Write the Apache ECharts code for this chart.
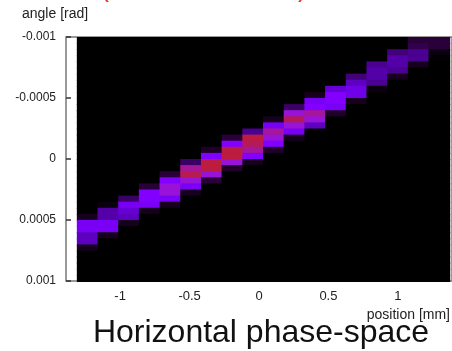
<!DOCTYPE html>
<html>
<head>
<meta charset="UTF-8">
<title>Horizontal phase-space</title>
<style type="text/css">
html, body {
	margin: 0;
	padding: 0;
	background: #ffffff;
}
#main {
	width: 452px;
	height: 351px;
}
</style>
</head>
<body>
	<div id="main"></div>
</body>
<script type="text/javascript" src="https://cdn.jsdelivr.net/npm/echarts@6/dist/echarts.min.js"></script>
<script type="text/javascript">
	// bin left edges along position [mm]
	var posBins = [ -1.312, -1.163, -1.014, -0.865, -0.716, -0.567, -0.418, -0.269, -0.120,
			0.029, 0.178, 0.327, 0.476, 0.625, 0.774, 0.923, 1.072, 1.221 ];
	var posStep = 0.149;
	// angle bins: 40 rows of 0.00005 rad from -0.001
	var angleStart = -0.001;
	var angleStep = 0.00005;
	var angleRows = 40;
	// first non-empty row of each column, then its values (0..10)
	var firstRow = [ 29, 27, 26, 24, 22, 20, 18, 16, 15, 13, 11, 9, 8, 6, 4, 2, 0, 0 ];
	var colValues = [
		[ 1, 6.5, 6.5, 5, 5, 1 ],
		[ 0.5, 4.5, 4.5, 6.5, 6.5, 1 ],
		[ 3, 6.5, 5.5, 5, 1 ],
		[ 2, 7, 7, 6.5, 1 ],
		[ 2, 7, 8, 8, 6.5, 1 ],
		[ 3, 8.5, 9.2, 8, 6.5, 1 ],
		[ 1.5, 7, 9.5, 9.5, 8, 2 ],
		[ 2, 7, 9.5, 9.5, 8, 1.5 ],
		[ 4, 9.5, 9, 8.5, 7, 1 ],
		[ 1, 6.5, 8.5, 8, 7, 1.5 ],
		[ 3, 8, 9, 8, 6.5, 1 ],
		[ 1, 6.5, 7, 8.5, 8, 5 ],
		[ 5.5, 7, 7, 6.5, 1.5 ],
		[ 3.5, 5, 6, 6, 1 ],
		[ 4, 4.5, 4.5, 4, 0.5 ],
		[ 3.5, 4.5, 4.5, 4, 1 ],
		[ 2, 2.5, 4, 4, 1 ],
		[ 2, 2, 0.5 ]
	];
	var xTicks = [ -1, -0.5, 0, 0.5, 1 ];
	var palette = [ '#000000', '#16001e', '#2a0038', '#3a0066', '#4a0090', '#5e00c0',
			'#7000e8', '#8200ff', '#9812d8', '#b41a5a', '#c41e24' ];

	// 每个格子: [位置左边, 角度上边, 值]
	var cells = [];
	for (var i = 0; i < posBins.length; i++) {
		for (var k = 0; k < angleRows; k++) {
			var v = 0;
			var j = k - firstRow[i];
			if (j >= 0 && j < colValues[i].length) {
				v = colValues[i][j];
			}
			cells.push([ posBins[i], angleStart + angleStep * k, v ]);
		}
	}

	var chart = echarts.init(document.getElementById('main'));
	var font = 'Liberation Sans, Arial, sans-serif';

	var option = {
		animation : false,
		backgroundColor : '#ffffff',
		title : {
			text : '(after collimation)',
			left : 100,
			top : -25,
			padding : 0,
			textStyle : {
				color : '#e8381c',
				fontSize : 27,
				fontWeight : 'normal',
				fontFamily : font
			}
		},
		grid : {
			left : 66,
			right : -6,
			top : 37,
			bottom : 70,
			show : true,
			borderColor : '#7a7a7a',
			borderWidth : 1.5,
			backgroundColor : '#ffffff'
		},
		visualMap : {
			show : false,
			type : 'continuous',
			min : 0,
			max : 10,
			dimension : 2,
			inRange : {
				color : palette
			}
		},
		xAxis : {
			type : 'value',
			min : -1.39,
			max : 1.39,
			axisLine : { show : false, onZero : false },
			splitLine : { show : false },
			axisTick : {
				show : false
			},
			axisLabel : {
				customValues : xTicks,
				color : '#222',
				fontSize : 13,
				fontFamily : font,
				margin : 9
			}
		},
		yAxis : {
			type : 'value',
			inverse : true,
			min : -0.001,
			max : 0.001,
			interval : 0.0005,
			axisLine : { show : false, onZero : false },
			splitLine : { show : false },
			axisTick : {
				show : true,
				inside : true,
				length : 5,
				lineStyle : { color : '#333', width : 1.5 }
			},
			axisLabel : {
				color : '#222',
				fontSize : 12,
				fontFamily : font,
				margin : 10,
				formatter : function(v) {
					return String(+v.toFixed(4));
				}
			}
		},
		graphic : [ {
			type : 'text',
			left : 22,
			top : 7,
			style : {
				text : 'angle [rad]',
				fill : '#222',
				font : '14px ' + font
			}
		}, {
			type : 'text',
			right : 2,
			top : 308,
			style : {
				text : 'position [mm]',
				fill : '#222',
				font : '14px ' + font
			}
		}, {
			type : 'text',
			x : 261,
			y : 317,
			style : {
				text : 'Horizontal phase-space',
				fill : '#111',
				font : '32px ' + font,
				textAlign : 'center'
			}
		} ],
		series : [ {
			type : 'custom',
			data : cells,
			renderItem : function(params, api) {
				var p0 = api.coord([ api.value(0), api.value(1) ]);
				var p1 = api.coord([ api.value(0) + posStep, api.value(1) + angleStep ]);
				return {
					type : 'rect',
					shape : {
						x : Math.min(p0[0], p1[0]),
						y : Math.min(p0[1], p1[1]),
						width : Math.abs(p1[0] - p0[0]) + 1,
						height : Math.abs(p1[1] - p0[1]) + 1
					},
					style : {
						fill : api.visual('color'),
						stroke : null
					}
				};
			}
		} ]
	};
	chart.setOption(option);
</script>
</html>
